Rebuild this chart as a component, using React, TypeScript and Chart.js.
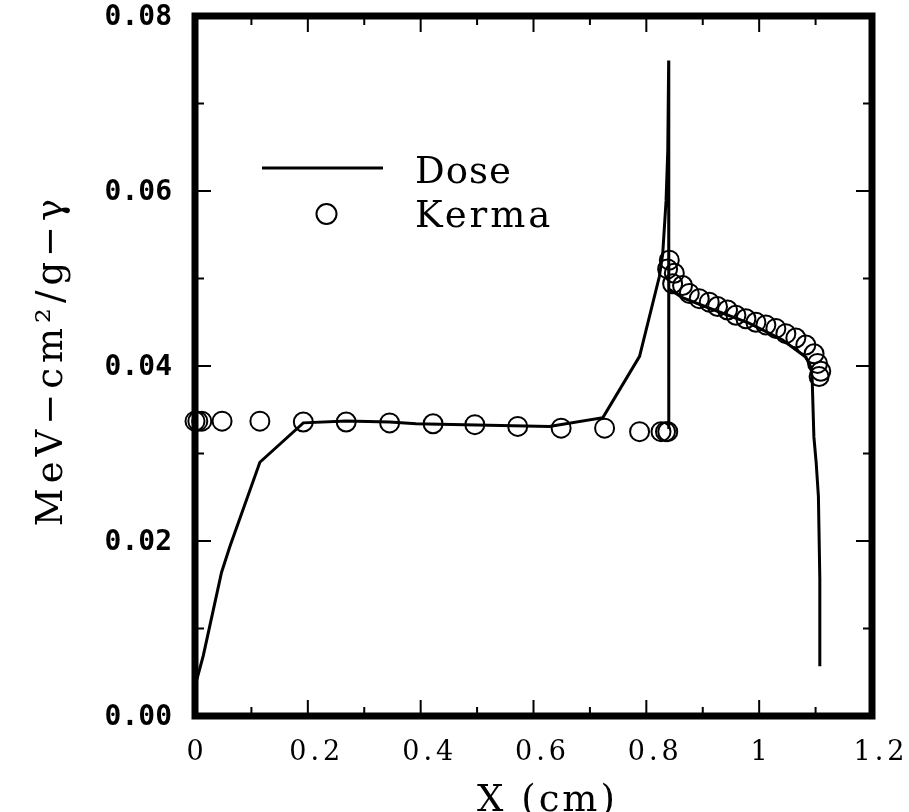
import React, { useEffect, useRef } from 'react';
import { Chart, registerables } from 'chart.js';

Chart.register(...registerables);

// ---- data ----
const xTickValues = [0, 0.2, 0.4, 0.6, 0.8, 1.0, 1.2];
const yTickValues = [0, 0.02, 0.04, 0.06, 0.08];

const doseX = [
  0, 0.0147, 0.047, 0.062, 0.115, 0.139, 0.192, 0.268, 0.345, 0.392, 0.628, 0.723,
  0.788, 0.823, 0.829, 0.835, 0.838, 0.8396, 0.8396, 0.8400, 0.864, 0.912, 0.982,
  1.041, 1.083, 1.092, 1.094, 1.097, 1.101, 1.105, 1.1075, 1.1075,
];
const doseY = [
  0.0034, 0.0069, 0.0164, 0.0194, 0.029, 0.0304, 0.0335, 0.0337, 0.0336, 0.0334, 0.0331, 0.0341,
  0.0411, 0.0502, 0.0528, 0.0589, 0.0646, 0.0749, 0.0328, 0.0488, 0.0478, 0.0466, 0.0449,
  0.043, 0.041, 0.0398, 0.0384, 0.0319, 0.029, 0.0251, 0.0157, 0.0057,
];

const kermaX = [
  0, 0.005, 0.012, 0.048, 0.115, 0.192, 0.268, 0.345, 0.422, 0.496, 0.572, 0.649, 0.726,
  0.788, 0.826, 0.834, 0.838,
  0.8377, 0.8407, 0.8466, 0.8496, 0.8642, 0.8761, 0.8938, 0.9115, 0.9262, 0.9439, 0.9588,
  0.9765, 0.9942, 1.0119, 1.0296, 1.0473, 1.065, 1.0827, 1.0973, 1.1035, 1.1092, 1.1062,
];
const kermaY = [
  0.0337, 0.0337, 0.0337, 0.0337, 0.0337, 0.0336, 0.0336, 0.0335, 0.0334, 0.0333, 0.0331, 0.0329, 0.0329,
  0.0325, 0.0325, 0.0325, 0.0325,
  0.0511, 0.0521, 0.0494, 0.0506, 0.0492, 0.0483, 0.0477, 0.0473, 0.0468, 0.0464, 0.0458,
  0.0454, 0.045, 0.0447, 0.0443, 0.0437, 0.0432, 0.0424, 0.0414, 0.0403, 0.0394, 0.0388,
];

const seriesNames = ['Dose', 'Kerma'];
const xTitle = 'X (cm)';
const yTitle = 'MeV−cm²/g−γ';

function fmtX(v: number) {
  return String(parseFloat(v.toFixed(1)));
}
function fmtY(v: number) {
  return v.toFixed(2);
}

const framePlugin = {
  id: 'frame',
  afterDatasetsDraw(chart: any) {
    const ctx: CanvasRenderingContext2D = chart.ctx;
    const { left, right, top, bottom } = chart.chartArea;
    const xs = chart.scales.x;
    const ys = chart.scales.y;
    ctx.save();
    ctx.strokeStyle = '#000';
    ctx.fillStyle = '#000';
    // frame
    ctx.lineWidth = 7;
    ctx.lineJoin = 'miter';
    ctx.strokeRect(left, top, right - left, bottom - top);

    // ticks
    ctx.lineWidth = 2;
    const majorLen = 16;
    const minorLen = 9;
    ctx.beginPath();
    xTickValues.forEach((v, i) => {
      const px = xs.getPixelForValue(v);
      ctx.moveTo(px, bottom);
      ctx.lineTo(px, bottom - majorLen);
      ctx.moveTo(px, top);
      ctx.lineTo(px, top + majorLen);
      if (i < xTickValues.length - 1) {
        const mx = xs.getPixelForValue((v + xTickValues[i + 1]) / 2);
        ctx.moveTo(mx, bottom);
        ctx.lineTo(mx, bottom - minorLen);
        ctx.moveTo(mx, top);
        ctx.lineTo(mx, top + minorLen);
      }
    });
    yTickValues.forEach((v, i) => {
      const py = ys.getPixelForValue(v);
      ctx.moveTo(left, py);
      ctx.lineTo(left + majorLen, py);
      ctx.moveTo(right, py);
      ctx.lineTo(right - majorLen, py);
      if (i < yTickValues.length - 1) {
        const my = ys.getPixelForValue((v + yTickValues[i + 1]) / 2);
        ctx.moveTo(left, my);
        ctx.lineTo(left + minorLen, my);
        ctx.moveTo(right, my);
        ctx.lineTo(right - minorLen, my);
      }
    });
    ctx.stroke();

    // x tick labels
    ctx.font = '27px "DejaVu Serif"';
    (ctx as any).letterSpacing = '4px';
    ctx.textAlign = 'center';
    ctx.textBaseline = 'middle';
    xTickValues.forEach((v) => {
      const label = fmtX(v);
      const px = xs.getPixelForValue(v) + (label.length > 1 ? 9 : 2);
      ctx.fillText(label, px, 753);
    });

    // y tick labels
    ctx.font = 'bold 28px "DejaVu Sans Mono"';
    (ctx as any).letterSpacing = '0px';
    ctx.textAlign = 'right';
    yTickValues.forEach((v) => {
      const py = ys.getPixelForValue(v);
      ctx.fillText(fmtY(v), 172, py + 2);
    });

    // axis titles
    ctx.font = '37px "DejaVu Serif"';
    (ctx as any).letterSpacing = '3px';
    ctx.textAlign = 'center';
    ctx.textBaseline = 'alphabetic';
    ctx.fillText(xTitle, (left + right) / 2 + 14, 811);

    ctx.save();
    ctx.translate(62, 360);
    ctx.rotate(-Math.PI / 2);
    (ctx as any).letterSpacing = '5px';
    ctx.fillText(yTitle, 0, 0);
    ctx.restore();

    // legend
    ctx.lineWidth = 3;
    ctx.beginPath();
    ctx.moveTo(262, 168);
    ctx.lineTo(383, 168);
    ctx.stroke();
    ctx.lineWidth = 2;
    ctx.beginPath();
    ctx.arc(326.5, 214, 10, 0, Math.PI * 2);
    ctx.stroke();
    ctx.textAlign = 'left';
    (ctx as any).letterSpacing = '1px';
    ctx.fillText(seriesNames[0], 415, 183);
    (ctx as any).letterSpacing = '3px';
    ctx.fillText(seriesNames[1], 415, 227);

    ctx.restore();
  },
};

export default function App() {
  const canvasRef = useRef<HTMLCanvasElement | null>(null);

  useEffect(() => {
    const canvas = canvasRef.current;
    if (!canvas) return;
    const chart = new Chart(canvas, {
      type: 'scatter',
      data: {
        datasets: [
          {
            label: seriesNames[0],
            data: doseX.map((x, i) => ({ x, y: doseY[i] })),
            showLine: true,
            borderColor: '#000',
            borderWidth: 3,
            pointRadius: 0,
            fill: false,
            tension: 0,
            clip: false,
          } as any,
          {
            label: seriesNames[1],
            data: kermaX.map((x, i) => ({ x, y: kermaY[i] })),
            showLine: false,
            pointStyle: 'circle',
            pointRadius: 9.5,
            borderColor: '#000',
            borderWidth: 2,
            backgroundColor: 'rgba(0,0,0,0)',
            clip: false,
          } as any,
        ],
      },
      options: {
        responsive: false,
        animation: false,
        devicePixelRatio: 1,
        layout: { padding: { top: 16, right: 37, left: 0, bottom: 0 } },
        plugins: {
          legend: { display: false },
          tooltip: { enabled: false },
        },
        scales: {
          x: {
            type: 'linear',
            min: 0,
            max: 1.2,
            ticks: { display: false, stepSize: 0.2 },
            grid: { display: false, drawTicks: false },
            border: { display: false },
            afterFit: (s: any) => {
              s.height = 96;
            },
          },
          y: {
            type: 'linear',
            min: 0,
            max: 0.08,
            ticks: { display: false, stepSize: 0.02 },
            grid: { display: false, drawTicks: false },
            border: { display: false },
            afterFit: (s: any) => {
              s.width = 195;
            },
          },
        },
      } as any,
      plugins: [framePlugin],
    });
    return () => chart.destroy();
  }, []);

  return (
    <div style={{ position: 'absolute', left: 0, top: 0, width: 909, height: 812, background: '#fff' }}>
      <canvas ref={canvasRef} width={909} height={812} style={{ display: 'block' }} />
    </div>
  );
}
